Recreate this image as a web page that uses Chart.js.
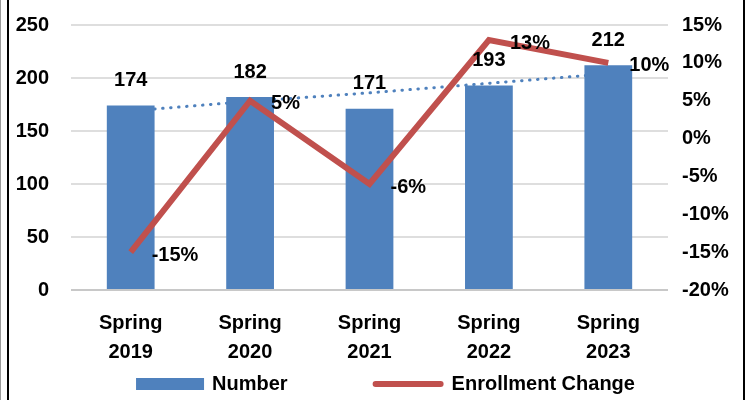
<!DOCTYPE html>
<html lang="en">
<head>
  <meta charset="UTF-8" />
  <title>Spring enrollment</title>
  <style>
    html, body { margin: 0; padding: 0; background: #fff; }
    .wrap { position: relative; width: 755px; height: 400px; overflow: hidden; }
    .edge { position: absolute; top: 0; left: 0; width: 1px; height: 400px; background: #9a9a9a; }
    .frame { position: absolute; top: 0; left: 7px; width: 734px; height: 400px;
      border-left: 2px solid #000; border-right: 2px solid #000; pointer-events: none; }
    canvas { position: absolute; left: 0; top: 0; }
  </style>
</head>
<body>
<div class="wrap">
  <canvas id="chart" width="755" height="400"></canvas>
  <div class="edge"></div>
  <div class="frame"></div>
</div>

<script src="https://cdn.jsdelivr.net/npm/chart.js"></script>
<script>
const categories = [['Spring', '2019'], ['Spring', '2020'], ['Spring', '2021'], ['Spring', '2022'], ['Spring', '2023']];
const numbers = [174, 182, 171, 193, 212];
const enrollmentChange = [-0.15, 0.05, -0.06, 0.13, 0.10];
// linear trendline of Number
const numberTrend = [169, 178, 186, 195, 204];

const leftTicks = { min: 0, max: 250, step: 50 };
const rightTicks = { min: -0.20, max: 0.15, step: 0.05 };

const blue = '#4F81BD';
const red = '#C0504D';
const FONT = '"Liberation Sans", Arial, sans-serif';

// value labels: above bars, right of line points
const valueLabels = {
  id: 'valueLabels',
  afterDatasetsDraw(chart) {
    const ctx = chart.ctx;
    ctx.save();
    ctx.font = 'bold 20px ' + FONT;
    ctx.fillStyle = '#000';
    ctx.textBaseline = 'middle';

    const bars = chart.getDatasetMeta(0);
    ctx.textAlign = 'center';
    bars.data.forEach((bar, i) => {
      ctx.fillText(String(numbers[i]), bar.x, bar.y - 25);
    });

    const line = chart.getDatasetMeta(1);
    ctx.textAlign = 'left';
    line.data.forEach((pt, i) => {
      ctx.fillText(Math.round(enrollmentChange[i] * 100) + '%', pt.x + 21, pt.y + 3);
    });
    ctx.restore();
  }
};

// legend drawn below the axis, bar swatch then line swatch
const bottomLegend = {
  id: 'bottomLegend',
  afterDraw(chart) {
    const ctx = chart.ctx;
    const names = [chart.data.datasets[0].label, chart.data.datasets[1].label];
    ctx.save();
    ctx.font = 'bold 20px ' + FONT;
    ctx.textBaseline = 'middle';
    ctx.textAlign = 'left';
    const w0 = ctx.measureText(names[0]).width;
    const w1 = ctx.measureText(names[1]).width;
    const total = 68 + 8 + w0 + 85 + 71 + 8 + w1;
    let x = chart.width / 2 + 8 - total / 2;
    const y = 384;

    ctx.fillStyle = blue;
    ctx.fillRect(x, y - 6, 68, 12);
    x += 68 + 8;
    ctx.fillStyle = '#000';
    ctx.fillText(names[0], x, y);
    x += w0 + 85;

    ctx.strokeStyle = red;
    ctx.lineWidth = 6;
    ctx.lineCap = 'round';
    ctx.beginPath();
    ctx.moveTo(x + 3, y);
    ctx.lineTo(x + 68, y);
    ctx.stroke();
    x += 71 + 8;
    ctx.fillText(names[1], x, y);
    ctx.restore();
  }
};

const ctx = document.getElementById('chart').getContext('2d');
new Chart(ctx, {
  data: {
    labels: categories,
    datasets: [
      {
        type: 'bar',
        label: 'Number',
        data: numbers,
        backgroundColor: blue,
        yAxisID: 'y',
        barPercentage: 0.4,
        categoryPercentage: 1,
        order: 2
      },
      {
        type: 'line',
        label: 'Enrollment Change',
        data: enrollmentChange,
        borderColor: red,
        backgroundColor: red,
        borderWidth: 6,
        pointRadius: 0,
        tension: 0,
        yAxisID: 'y1',
        order: 0
      },
      {
        type: 'line',
        label: 'Trend',
        data: numberTrend,
        borderColor: blue,
        borderWidth: 3,
        borderDash: [0.5, 7.5],
        borderCapStyle: 'round',
        pointRadius: 0,
        yAxisID: 'y',
        order: 3
      }
    ]
  },
  options: {
    responsive: false,
    animation: false,
    layout: { padding: { top: 25, left: 0, right: 0, bottom: 40 } },
    plugins: {
      tooltip: { enabled: false },
      legend: { display: false }
    },
    scales: {
      x: {
        grid: { display: false, drawTicks: false },
        border: { display: false },
        ticks: {
          font: { family: FONT, size: 20, weight: 'bold', lineHeight: 1.45 },
          color: '#000',
          padding: 19,
          maxRotation: 0
        },
        afterFit(scale) { scale.height = 70; }
      },
      y: {
        position: 'left',
        min: leftTicks.min,
        max: leftTicks.max,
        ticks: {
          stepSize: leftTicks.step,
          font: { family: FONT, size: 20, weight: 'bold' },
          color: '#000',
          padding: 22
        },
        grid: {
          drawTicks: false,
          lineWidth: 2,
          color: ctx => ctx.tick.value === 0 ? '#c8c8c8' : '#dedede'
        },
        border: { display: false },
        afterFit(scale) { scale.width = 71; scale.paddingTop = 0; scale.paddingBottom = 0; }
      },
      y1: {
        position: 'right',
        min: rightTicks.min,
        max: rightTicks.max,
        ticks: {
          stepSize: rightTicks.step,
          font: { family: FONT, size: 20, weight: 'bold' },
          color: '#000',
          padding: 14,
          callback: v => Math.round(v * 100) + '%'
        },
        grid: { display: false, drawTicks: false },
        border: { display: false },
        afterFit(scale) { scale.width = 87; scale.paddingTop = 0; scale.paddingBottom = 0; }
      }
    }
  },
  plugins: [valueLabels, bottomLegend]
});
</script>
</body>
</html>
